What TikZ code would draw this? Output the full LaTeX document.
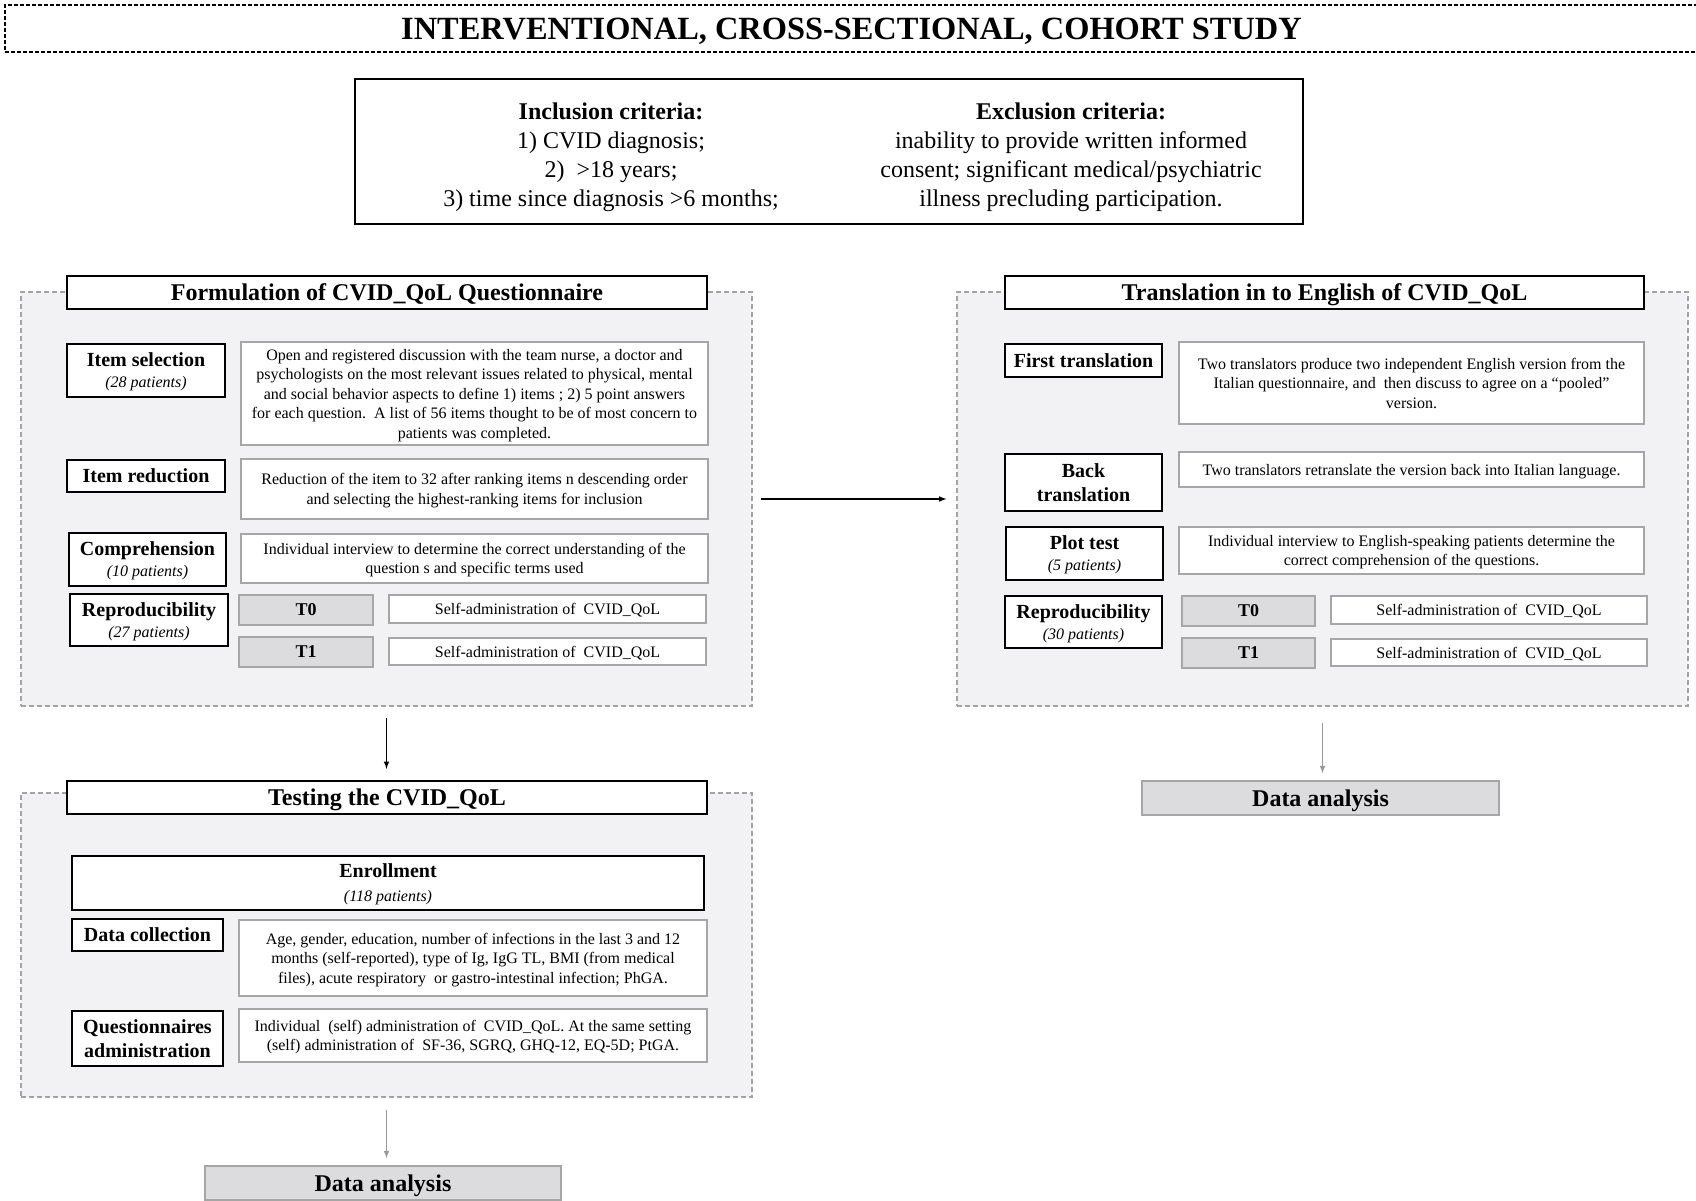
\documentclass[tikz,border=0pt]{standalone}
\usepackage{fontspec}
\setmainfont{Liberation Serif}
\usepackage{xcolor}
\usepackage{tikz}

\definecolor{panelgray}{HTML}{F2F2F4}
\definecolor{dashgray}{HTML}{A3A3A3}
\definecolor{boxgray}{HTML}{A6A6A6}
\definecolor{fillgray}{HTML}{DCDCDE}

\newcommand{\titlefnt}{\fontsize{32.4}{38}\selectfont\bfseries}
\newcommand{\headfnt}{\fontsize{24}{28}\selectfont\bfseries}
\newcommand{\critfnt}{\fontsize{24}{29}\selectfont}
\newcommand{\labfnt}{\fontsize{20}{24}\selectfont\bfseries}
\newcommand{\descfnt}{\fontsize{16}{19.5}\selectfont}
\newcommand{\npat}[1]{{\mdseries\itshape\fontsize{16}{19}\selectfont (#1 patients)}}

\begin{document}
\begin{tikzpicture}[x=1pt,y=-1pt,align=center,every node/.append style={text depth=0pt},
  titlebox/.style={draw=black,dash pattern=on 4pt off 2pt,line width=1.3pt,font=\titlefnt,inner sep=0pt},
  critbox/.style={draw=black,line width=2pt,inner sep=0pt},
  panel/.style={draw=dashgray,dash pattern=on 5pt off 3pt,fill=panelgray,line width=1.2pt,inner sep=0pt},
  head/.style={draw=black,line width=2.2pt,fill=white,font=\headfnt,inner sep=0pt},
  lab/.style={draw=black,line width=2pt,fill=white,font=\labfnt,inner sep=0pt},
  desc/.style={draw=boxgray,line width=1.5pt,fill=white,font=\descfnt,inner sep=0pt},
  tbox/.style={draw=boxgray,line width=1.5pt,fill=fillgray,font=\fontsize{18}{22}\selectfont\bfseries,inner sep=0pt},
  result/.style={draw=boxgray,line width=1.5pt,fill=fillgray,font=\headfnt,inner sep=0pt},
  flow/.style={-latex,line width=1.5pt},
  flowgray/.style={-latex,line width=1.5pt,draw=gray!80}]
\clip (0,0) rectangle (1696,1200);

% title and criteria
\node[titlebox,minimum width=1693pt,minimum height=47pt] (title) at (851.5,28.5) {INTERVENTIONAL, CROSS-SECTIONAL, COHORT STUDY};
\node[critbox,minimum width=948pt,minimum height=145pt] (crit) at (829,151.5) {};
\node[font=\critfnt] (incl) at (611,155) {{\bfseries Inclusion criteria:}\\ 1) CVID diagnosis;\\ 2)\ \ >18 years;\\ 3) time since diagnosis >6 months;};
\node[font=\critfnt] (excl) at (1071,155) {{\bfseries Exclusion criteria:}\\ inability to provide written informed\\ consent; significant medical/psychiatric\\ illness precluding participation.};

% formulation
\node[panel,minimum width=731pt,minimum height=414pt] (lpanel) at (386.5,499) {};
\node[head,minimum width=640pt,minimum height=33pt] (lhead) at (387,292.5) {Formulation of CVID\_QoL Questionnaire};
\node[lab,minimum width=158pt,minimum height=53pt] (lsel) at (146,370.5) {Item selection\\[-3pt]\npat{28}};
\node[desc,minimum width=467pt,minimum height=103pt] (dsel) at (474.5,393.5) {Open and registered discussion with the team nurse, a doctor and\\ psychologists on the most relevant issues related to physical, mental\\ and social behavior aspects to define 1) items ; 2) 5 point answers\\ for each question.\ \ A list of 56 items thought to be of most concern to\\ patients was completed.};
\node[lab,minimum width=158pt,minimum height=32pt] (lred) at (146,476) {Item reduction};
\node[desc,minimum width=467pt,minimum height=60pt] (dred) at (474.5,489) {Reduction of the item to 32 after ranking items n descending order\\ and selecting the highest-ranking items for inclusion};
\node[lab,minimum width=157pt,minimum height=53pt] (lcom) at (147.5,559.5) {Comprehension\\[-3pt]\npat{10}};
\node[desc,minimum width=467pt,minimum height=49pt] (dcom) at (474.5,558.5) {Individual interview to determine the correct understanding of the\\ question s and specific terms used};
\node[lab,minimum width=158pt,minimum height=52pt] (lrep) at (149,620) {Reproducibility\\[-3pt]\npat{27}};
\node[tbox,minimum width=134pt,minimum height=30pt] (t0) at (306,610) {T0};
\node[desc,minimum width=317pt,minimum height=28pt] (s0) at (547.5,609) {Self-administration of\ \ CVID\_QoL};
\node[tbox,minimum width=134pt,minimum height=30pt] (t1) at (306,652) {T1};
\node[desc,minimum width=317pt,minimum height=27pt] (s1) at (547.5,651.5) {Self-administration of\ \ CVID\_QoL};

% translation
\node[panel,minimum width=731pt,minimum height=414pt] (rpanel) at (1322.5,499) {};
\node[head,minimum width=639pt,minimum height=33pt] (rhead) at (1324.5,292.5) {Translation in to English of CVID\_QoL};
\node[lab,minimum width=157pt,minimum height=33pt] (lfir) at (1083.5,360.5) {First translation};
\node[desc,minimum width=465pt,minimum height=82pt] (dfir) at (1411.5,383) {Two translators produce two independent English version from the\\ Italian questionnaire, and\ \ then discuss to agree on a ``pooled''\\ version.};
\node[lab,minimum width=157pt,minimum height=57pt] (lback) at (1083.5,482.5) {Back\\ translation};
\node[desc,minimum width=465pt,minimum height=35pt] (dback) at (1411.5,469.5) {Two translators retranslate the version back into Italian language.};
\node[lab,minimum width=157pt,minimum height=53pt] (lplot) at (1084.5,553.5) {Plot test\\[-3pt]\npat{5}};
\node[desc,minimum width=465pt,minimum height=47pt] (dplot) at (1411.5,550.5) {Individual interview to English-speaking patients determine the\\ correct comprehension of the questions.};
\node[lab,minimum width=157pt,minimum height=52pt] (lrep2) at (1083.5,622) {Reproducibility\\[-3pt]\npat{30}};
\node[tbox,minimum width=133pt,minimum height=30pt] (u0) at (1248.5,611) {T0};
\node[desc,minimum width=316pt,minimum height=28pt] (v0) at (1489,610) {Self-administration of\ \ CVID\_QoL};
\node[tbox,minimum width=133pt,minimum height=30pt] (u1) at (1248.5,653) {T1};
\node[desc,minimum width=316pt,minimum height=27pt] (v1) at (1489,652.5) {Self-administration of\ \ CVID\_QoL};

% testing
\node[panel,minimum width=731pt,minimum height=304pt] (tpanel) at (386.5,945) {};
\node[head,minimum width=640pt,minimum height=33pt] (thead) at (387,797.5) {Testing the CVID\_QoL};
\node[lab,minimum width=632pt,minimum height=54pt] (enr) at (388,883) {Enrollment\\ \npat{118}};
\node[lab,minimum width=151pt,minimum height=32pt] (ldat) at (147.5,935) {Data collection};
\node[desc,minimum width=468pt,minimum height=76pt] (ddat) at (473,958) {Age, gender, education, number of infections in the last 3 and 12\\ months (self-reported), type of Ig, IgG TL, BMI (from medical\\ files), acute respiratory\ \ or gastro-intestinal infection; PhGA.};
\node[lab,minimum width=151pt,minimum height=55pt] (lque) at (147.5,1038.5) {Questionnaires\\ administration};
\node[desc,minimum width=468pt,minimum height=53pt] (dque) at (473,1035.5) {Individual\ \ (self) administration of\ \ CVID\_QoL. At the same setting\\ (self) administration of\ \ SF-36, SGRQ, GHQ-12, EQ-5D; PtGA.};

% results
\node[result,minimum width=356pt,minimum height=34pt] (ana1) at (383,1183) {Data analysis};
\node[result,minimum width=357pt,minimum height=34pt] (ana2) at (1320.5,798) {Data analysis};

\draw[flow,shorten <=8pt,shorten >=10pt] (lpanel.east) -- (rpanel.west);
\draw[flow,shorten <=11pt,shorten >=11pt] (lpanel.south) -- (lpanel.south |- thead.north);
\draw[flowgray,shorten <=12pt,shorten >=7pt] (tpanel.south) -- (tpanel.south |- ana1.north);
\draw[flowgray,shorten <=16pt,shorten >=7pt] (rpanel.south) -- (rpanel.south |- ana2.north);
\end{tikzpicture}
\end{document}
